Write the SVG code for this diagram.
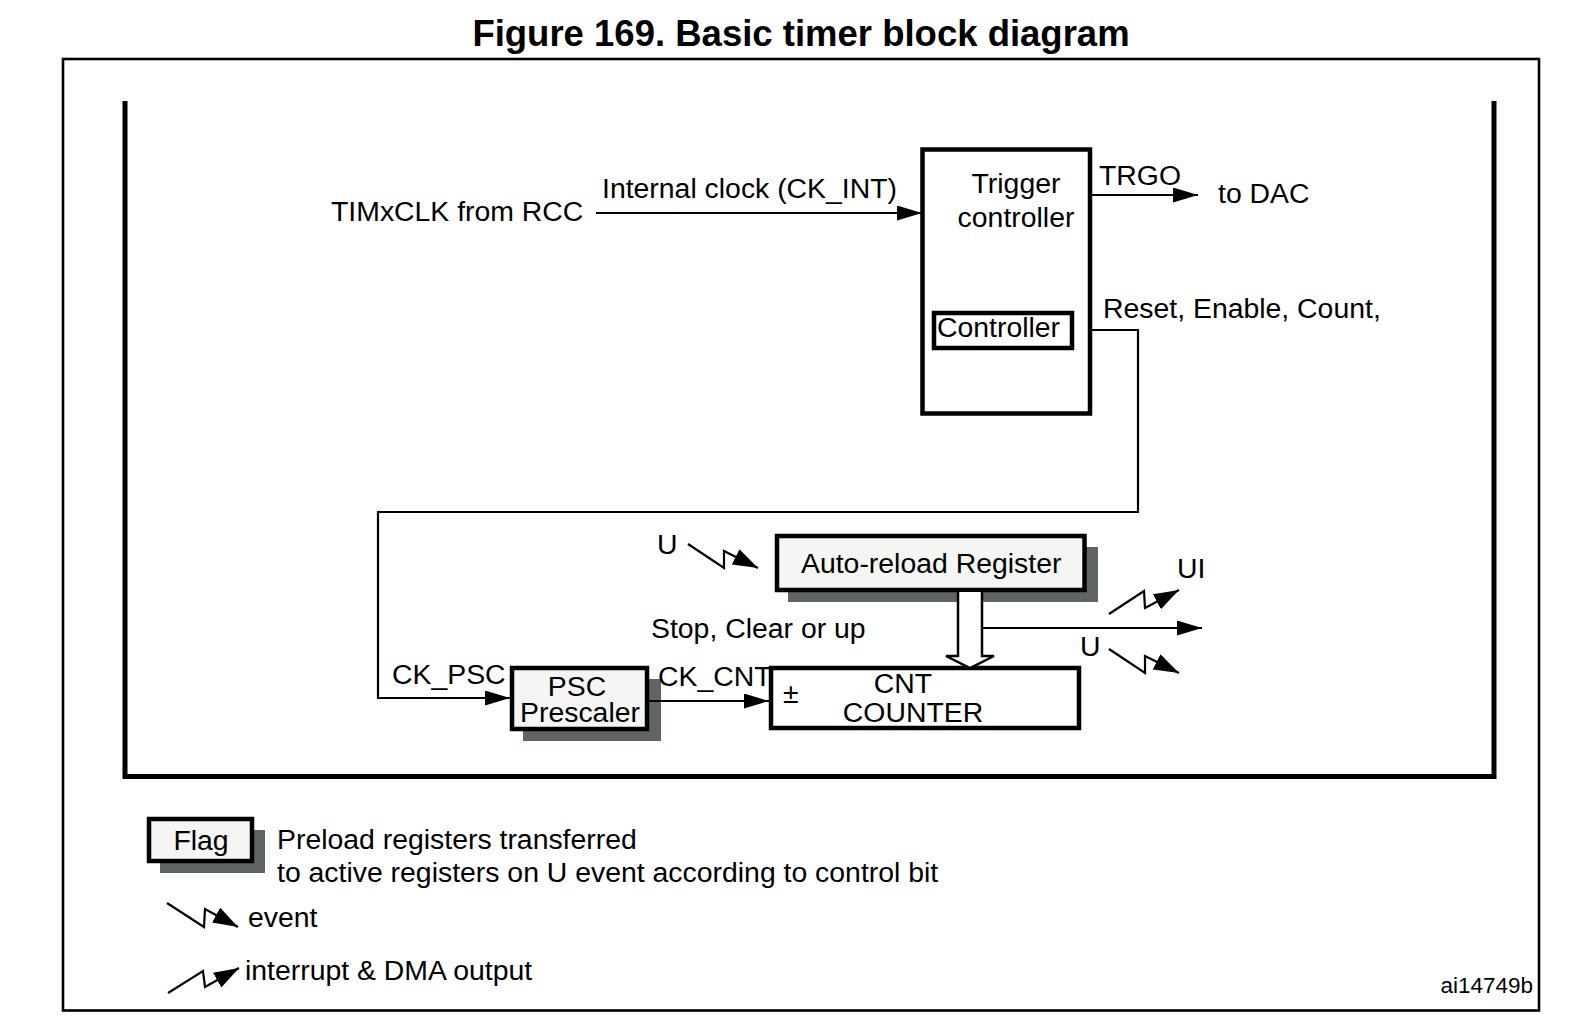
<svg xmlns="http://www.w3.org/2000/svg" width="1593" height="1022" viewBox="0 0 1593 1022">
<style>
text{font-family:"Liberation Sans",Arial,sans-serif;font-size:28.4px;fill:#000}
.title{font-weight:bold;font-size:36.5px}
.mid{text-anchor:middle}
.box{stroke:#000;stroke-width:4.5}
.white{fill:#fff}
.reg{fill:#f5f5f3}
.shadow{fill:#5f6466}
.wire{fill:none;stroke:#000;stroke-width:2.2}
.ev{fill:none;stroke:#000;stroke-width:2.2}
</style>
<defs>
<marker id="ah" markerUnits="userSpaceOnUse" markerWidth="26" markerHeight="16" refX="25" refY="7.5" orient="auto" viewBox="0 0 26 16"><path d="M0,0 L25,7.5 L0,15 Z" fill="#000"/></marker>
<marker id="zh" markerUnits="userSpaceOnUse" markerWidth="26" markerHeight="18" refX="25" refY="8.5" orient="auto" viewBox="0 0 26 18"><path d="M0,0 L25,8.5 L0,17 Z" fill="#000"/></marker>
</defs>
<rect width="1593" height="1022" fill="#fff"/>
<text id="title" class="title mid" x="801" y="46">Figure 169. Basic timer block diagram</text>
<g id="frame">
<rect x="63" y="59" width="1476" height="951.5" fill="none" stroke="#000" stroke-width="2.6"/>
<path d="M125,101 V776.5 H1494 V101" fill="none" stroke="#000" stroke-width="5"/>
</g>
<g id="trigger-controller">
<rect class="box white" x="922.5" y="149.5" width="167.5" height="264"/>
<text class="mid" x="1016" y="193">Trigger</text>
<text class="mid" x="1016" y="227">controller</text>
</g>
<g id="controller">
<rect class="box white" x="934" y="313" width="138" height="35" stroke-width="4"/>
<text x="937" y="337">Controller</text>
</g>
<g id="auto-reload">
<rect class="shadow" x="788" y="547" width="310" height="55"/>
<rect class="box reg" x="777" y="536" width="307.5" height="54"/>
<text x="801" y="573">Auto-reload Register</text>
</g>
<g id="psc">
<rect class="shadow" x="523" y="679" width="138" height="62"/>
<rect class="box reg" x="512" y="668" width="135" height="61"/>
<text class="mid" x="577" y="696">PSC</text>
<text class="mid" x="580" y="722">Prescaler</text>
</g>
<g id="cnt">
<rect class="box white" x="771" y="668" width="308" height="60"/>
<text x="783" y="703">±</text>
<text class="mid" x="903" y="693">CNT</text>
<text class="mid" x="913" y="722">COUNTER</text>
</g>
<g id="connectors">
<path class="wire" d="M596,213 H922" marker-end="url(#ah)"/>
<path class="wire" d="M1090,195 H1198" marker-end="url(#ah)"/>
<path class="wire" d="M1090,330 H1138 V512 H378 V698 H510" marker-end="url(#ah)"/>
<path class="wire" d="M649,701 H769" marker-end="url(#ah)"/>
<path class="wire" d="M982,628 H1202" marker-end="url(#ah)"/>
<path d="M958,592 V656 H946 L970,668 L994,656 H982 V592" fill="#fff" stroke="#000" stroke-width="2.5"/>
<path class="ev" d="M688,544 L724,568 L724,551 L758,568" marker-end="url(#zh)"/>
<path class="ev" d="M1109,614 L1144,591 L1145,608 L1179,590" marker-end="url(#zh)"/>
<path class="ev" d="M1109,649 L1145,673 L1145,656 L1179,673" marker-end="url(#zh)"/>
</g>
<g id="labels">
<text x="331" y="221">TIMxCLK from RCC</text>
<text x="602" y="198">Internal clock (CK_INT)</text>
<text x="1099" y="185">TRGO</text>
<text x="1218" y="203">to DAC</text>
<text x="1103" y="318">Reset, Enable, Count,</text>
<text x="657" y="554">U</text>
<text x="651" y="638">Stop, Clear or up</text>
<text x="392" y="684">CK_PSC</text>
<text x="658" y="686">CK_CNT</text>
<text x="1177" y="578">UI</text>
<text x="1080" y="656">U</text>
</g>
<g id="legend">
<g id="legend-flag">
<rect class="shadow" x="160" y="830" width="105" height="43"/>
<rect class="box reg" x="149" y="819" width="103" height="42"/>
<text class="mid" x="201" y="850">Flag</text>
<text x="277" y="849">Preload registers transferred</text>
<text x="277" y="882">to active registers on U event according to control bit</text>
</g>
<g id="legend-event">
<path class="ev" d="M167,903 L204,927 L205,909 L238,927" marker-end="url(#zh)"/>
<text x="248" y="927">event</text>
</g>
<g id="legend-interrupt">
<path class="ev" d="M168,993 L203,971 L205,987 L239,968" marker-end="url(#zh)"/>
<text x="245" y="980">interrupt &amp; DMA output</text>
</g>
</g>
<text id="ref" x="1533" y="993" text-anchor="end" style="font-size:22.5px">ai14749b</text>
</svg>
